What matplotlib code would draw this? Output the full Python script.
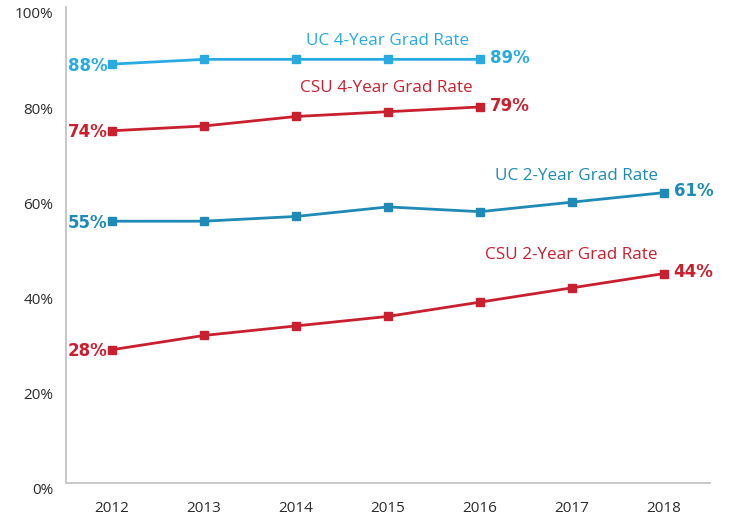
import matplotlib
matplotlib.use("Agg")
import matplotlib.pyplot as plt
import matplotlib.transforms as mtransforms

years = [2012, 2013, 2014, 2015, 2016, 2017, 2018]
uc4_years = [2012, 2013, 2014, 2015, 2016]
uc4 = [88, 89, 89, 89, 89]
csu4_years = [2012, 2013, 2014, 2015, 2016]
csu4 = [74, 75, 77, 78, 79]
uc2 = [55, 55, 56, 58, 57, 59, 61]
csu2 = [28, 31, 33, 35, 38, 41, 44]
y_ticks = [0, 20, 40, 60, 80, 100]
y_tick_labels = ["0%", "20%", "40%", "60%", "80%", "100%"]

C_UC4 = "#29abe2"
C_RED = "#c8202f"
C_UC2 = "#1f8ab5"

plt.rcParams['font.family'] = ['Open Sans', 'DejaVu Sans']

fig = plt.figure(figsize=(7.31, 5.18), dpi=100)
ax = fig.add_axes([66/731, 1-483/518, (710-66)/731, (483-7)/518])

series = [
    (uc4_years, uc4, C_UC4, "UC 4-Year Grad Rate", (2015, 92.8)),
    (csu4_years, csu4, C_RED, "CSU 4-Year Grad Rate", (2014.98, 83.0)),
    (years, uc2, C_UC2, "UC 2-Year Grad Rate", (2017.05, 64.4)),
    (years, csu2, C_RED, "CSU 2-Year Grad Rate", (2016.99, 47.8)),
]
for xs, ys, col, name, (lx, ly) in series:
    ax.plot(xs, ys, color=col, lw=2.0, marker='s', markersize=5.5, zorder=3)
    ax.text(lx, ly, name, color=col, fontsize=12.3, ha='center', va='center')
    ax.annotate(f"{ys[0]}%", (xs[0], ys[0]), xytext=(-3, -1), textcoords='offset points',
                ha='right', va='center', color=col, fontsize=12, fontweight='bold',
                family='DejaVu Sans')
    ax.annotate(f"{ys[-1]}%", (xs[-1], ys[-1]), xytext=(7, 1), textcoords='offset points',
                ha='left', va='center', color=col, fontsize=12, fontweight='bold',
                family='DejaVu Sans')

ax.set_xlim(2011.5, 2018.5)
ax.set_ylim(0, 100)
ax.set_xticks(years)
ax.set_xticklabels([str(y) for y in years])
ax.set_yticks(y_ticks)
ax.set_yticklabels(y_tick_labels)
ax.tick_params(axis='both', length=0, labelsize=11, labelcolor='#2b2b2b')
ax.tick_params(axis='x', pad=13)
ax.tick_params(axis='y', pad=9)
off = mtransforms.ScaledTranslation(0, -6/100, fig.dpi_scale_trans)
for lab in ax.get_yticklabels():
    lab.set_transform(lab.get_transform() + off)

for s in ['top', 'right']:
    ax.spines[s].set_visible(False)
for s in ['left', 'bottom']:
    ax.spines[s].set_color('#c4c4c4')
    ax.spines[s].set_linewidth(1.3)

fig.savefig("out.png", dpi=100)
